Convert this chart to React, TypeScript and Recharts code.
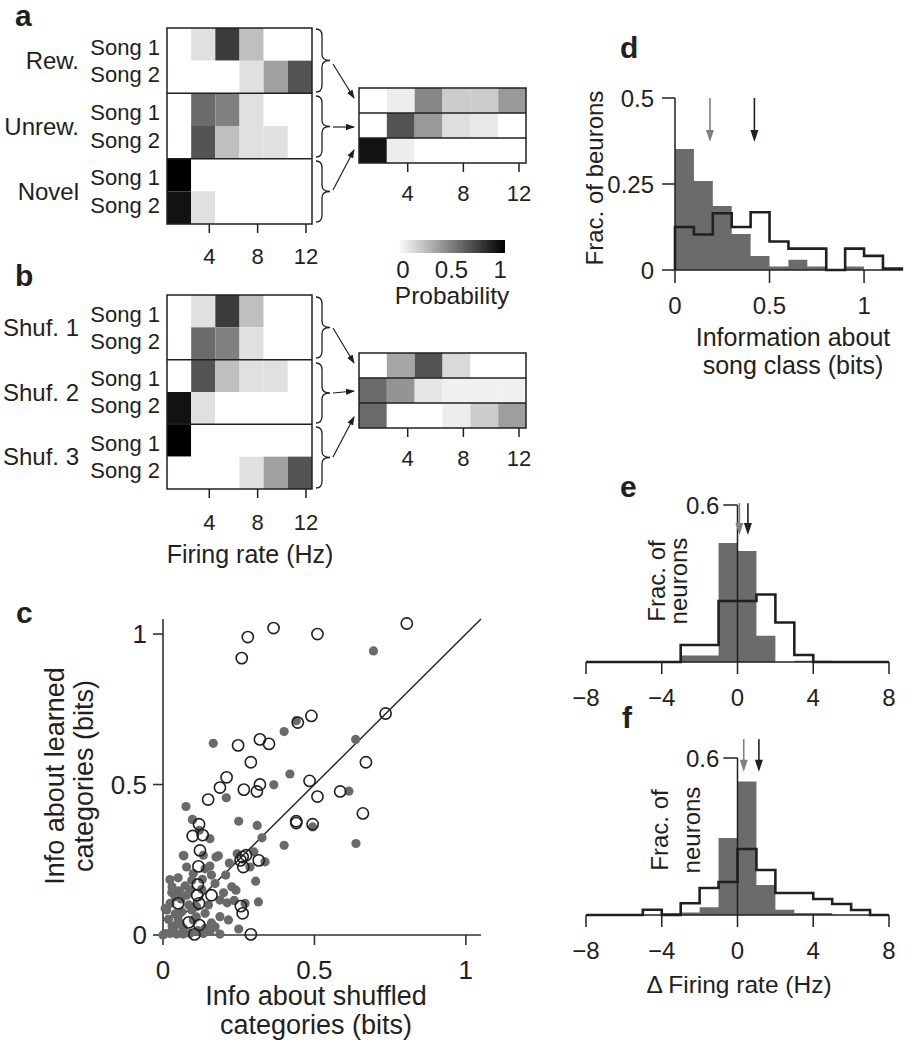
import React from 'react';
import {
  ComposedChart, ScatterChart, Scatter, XAxis, YAxis,
  ReferenceArea, ReferenceLine, Area, Line,
} from 'recharts';

const FONT = '"Liberation Sans", Arial, Helvetica, sans-serif';
const INK = '#231f20';
const FILL = '#6b6b6b';
const MEAN_GRAY = '#808080';

// ---------- a / b : firing-rate probability maps ----------
const RATE_EDGES = [0.5, 2.5, 4.5, 6.5, 8.5, 10.5, 12.5];
const RATE_TICKS = [4, 8, 12];
const SONG_LABELS = ['Song 1', 'Song 2', 'Song 1', 'Song 2', 'Song 1', 'Song 2'];
const SONG_TICKS = [0.58, 1.42, 2.58, 3.42, 4.58, 5.42];
const GROUP_TICKS = [1, 3, 5];
const GROUPS_A = ['Rew.', 'Unrew.', 'Novel'];
const GROUPS_B = ['Shuf. 1', 'Shuf. 2', 'Shuf. 3'];

const PROB_A = [
  [0, 0.12, 0.77, 0.25, 0, 0],
  [0, 0, 0, 0.12, 0.37, 0.67],
  [0, 0.58, 0.5, 0.12, 0, 0],
  [0, 0.67, 0.25, 0.12, 0.12, 0],
  [1, 0, 0, 0, 0, 0],
  [0.93, 0.12, 0, 0, 0, 0],
];
const PROB_A_POOLED = [
  [0, 0.07, 0.47, 0.2, 0.2, 0.4],
  [0, 0.67, 0.4, 0.13, 0.09, 0],
  [0.93, 0.07, 0, 0, 0, 0],
];
const PROB_B = [
  [0, 0.12, 0.77, 0.25, 0, 0],
  [0, 0.58, 0.5, 0.12, 0, 0],
  [0, 0.67, 0.25, 0.12, 0.12, 0],
  [0.93, 0.12, 0, 0, 0, 0],
  [1, 0, 0, 0, 0, 0],
  [0, 0, 0, 0.12, 0.37, 0.67],
];
const PROB_B_POOLED = [
  [0, 0.35, 0.67, 0.15, 0, 0],
  [0.58, 0.42, 0.1, 0.06, 0.06, 0.06],
  [0.58, 0, 0, 0.07, 0.2, 0.38],
];
const PROB_TICKS = [0, 0.5, 1];

// ---------- c : info learned vs shuffled ----------
const FILLED_PTS = [
  [0.695, 0.944], [0.44, 0.712], [0.4, 0.676], [0.636, 0.65], [0.166, 0.637], [0.419, 0.535],
  [0.366, 0.499], [0.209, 0.456], [0.076, 0.427], [0.614, 0.478], [0.097, 0.384], [0.25, 0.378],
  [0.311, 0.364], [0.327, 0.323], [0.494, 0.359], [0.4, 0.298], [0.637, 0.304], [0.155, 0.32],
  [0.069, 0.263], [0.175, 0.259], [0.183, 0.263], [0.133, 0.265], [0.078, 0.226], [0.155, 0.229],
  [0.219, 0.239], [0.245, 0.27], [0.3, 0.276], [0.337, 0.243], [0.287, 0.226], [0.207, 0.199],
  [0.16, 0.199], [0.023, 0.184], [0.306, 0.179], [0.227, 0.16], [0.241, 0.149], [0.095, 0.182],
  [0.073, 0.163], [0.054, 0.147], [0.029, 0.141], [0.04, 0.127], [0.078, 0.132], [0.128, 0.152],
  [0.172, 0.171], [0.188, 0.116], [0.212, 0.107], [0.315, 0.11], [0.271, 0.105], [0.007, 0.088],
  [0.023, 0.105], [0.062, 0.077], [0.095, 0.083], [0.139, 0.072], [0.018, 0.052], [0.05, 0.05],
  [0.188, 0.061], [0.216, 0.05], [0.172, 0.027], [0.139, 0.022], [0.034, 0.022], [0.067, 0.022],
  [0.007, 0.005], [0.023, 0.005], [0.045, 0.003], [0.067, 0.003], [0.089, 0.005], [0.133, 0.005],
  [0.188, 0.003], [0, 0], [0.1, 0.05], [0.111, 0.094], [0.12, 0.348], [0.1, 0.204], [0.139, 0.22],
  [0.098, 0.383], [0.012, 0.083], [0.067, 0.264], [0.03, 0.16], [0.06, 0.12], [0.085, 0.1],
  [0.04, 0.07], [0.11, 0.06], [0.15, 0.1], [0.09, 0.15], [0.13, 0.185], [0.2, 0.14], [0.05, 0.19],
  [0.16, 0.04], [0.03, 0.03], [0.115, 0.015], [0.155, 0.012], [0.058, 0.035], [0.25, 0.02],
  [0.235, 0.115],
];
const OPEN_PTS = [
  [0.26, 0.92], [0.28, 0.99], [0.365, 1.02], [0.51, 1.0], [0.805, 1.035], [0.735, 0.736],
  [0.49, 0.728], [0.445, 0.706], [0.248, 0.63], [0.32, 0.65], [0.35, 0.635], [0.29, 0.574],
  [0.21, 0.524], [0.188, 0.49], [0.267, 0.483], [0.31, 0.477], [0.32, 0.5], [0.149, 0.45],
  [0.484, 0.512], [0.51, 0.46], [0.67, 0.574], [0.585, 0.477], [0.66, 0.404], [0.44, 0.378],
  [0.44, 0.372], [0.494, 0.368], [0.119, 0.368], [0.098, 0.329], [0.131, 0.332], [0.122, 0.281],
  [0.117, 0.228], [0.263, 0.259], [0.274, 0.265], [0.256, 0.248], [0.265, 0.226], [0.316, 0.248],
  [0.115, 0.168], [0.113, 0.132], [0.16, 0.132], [0.119, 0.105], [0.05, 0.105], [0.257, 0.096],
  [0.263, 0.072], [0.085, 0.042], [0.12, 0.033], [0.104, 0.002], [0.29, 0.002],
];
const C_TICKS = [0, 0.5, 1];

// ---------- d : information histograms ----------
const D_EDGES = [0, 0.1, 0.2, 0.3, 0.4, 0.5, 0.6, 0.7, 0.8, 0.9, 1.0, 1.1, 1.2];
const D_SHUFFLED = [0.352, 0.259, 0.186, 0.105, 0.041, 0.01, 0.03, 0.01, 0, 0.01, 0, 0];
const D_LEARNED = [0.125, 0.103, 0.165, 0.125, 0.168, 0.083, 0.062, 0.062, 0, 0.062, 0.041, 0.004];
const D_MEANS = [0.185, 0.42];

// ---------- e / f : delta firing rate ----------
const RATE_DIFF_EDGES = [-8, -7, -6, -5, -4, -3, -2, -1, 0, 1, 2, 3, 4, 5, 6, 7, 8];
const E_FILLED = [0, 0, 0, 0, 0, 0.025, 0.025, 0.455, 0.424, 0.1, 0, 0.005, 0.005, 0, 0, 0];
const E_OUTLINE = [0, 0, 0, 0, 0, 0.065, 0.065, 0.233, 0.233, 0.258, 0.151, 0.027, 0, 0, 0, 0];
const E_MEANS = [0.1, 0.55];
const F_FILLED = [0, 0, 0, 0, 0.008, 0.01, 0.03, 0.294, 0.51, 0.115, 0.02, 0.008, 0.008, 0, 0, 0];
const F_OUTLINE = [0, 0, 0, 0.02, 0, 0.045, 0.103, 0.126, 0.252, 0.172, 0.084, 0.084, 0.061, 0.042, 0.019, 0];
const F_MEANS = [0.33, 1.13];
const DIFF_TICKS = [-8, -4, 0, 4, 8];

const shade = (v: number) => {
  const g = Math.round(255 * (1 - v));
  return `rgb(${g},${g},${g})`;
};

const noDot = () => <g />;
const SONG_AX = 'a_song';
const GROUP_AX = 'b_group';

function HeatMap({ values, groups, width, height, margin, tickMargin, xHeight }: any) {
  const n = values.length;
  const per = n / 3;
  const centers: any[] = [];
  const cells: any[] = [];
  values.forEach((row: number[], r: number) =>
    row.forEach((v, c) => {
      centers.push({ x: (RATE_EDGES[c] + RATE_EDGES[c + 1]) / 2, y: r + 0.5, p: v });
      cells.push(
        <ReferenceArea
          key={`c${r}-${c}`}
          yAxisId={SONG_AX}
          x1={RATE_EDGES[c]}
          x2={RATE_EDGES[c + 1]}
          y1={r}
          y2={r + 1}
          fill={shade(v)}
          fillOpacity={1}
          stroke="none"
          ifOverflow="visible"
        />
      );
    })
  );
  return (
    <ComposedChart width={width} height={height} margin={margin} data={centers}>
      <XAxis
        type="number"
        dataKey="x"
        domain={[RATE_EDGES[0], RATE_EDGES[RATE_EDGES.length - 1]]}
        ticks={RATE_TICKS}
        interval={0}
        height={xHeight}
        axisLine={false}
        tickSize={9}
        tickMargin={tickMargin}
        tickLine={{ stroke: INK, strokeWidth: 1.5 }}
        tick={{ fontSize: 22, fill: INK }}
      />
      {groups && (
        <YAxis
          yAxisId={GROUP_AX}
          type="number"
          dataKey="y"
          domain={[0, n]}
          reversed
          ticks={GROUP_TICKS}
          interval={0}
          tickFormatter={(v: number) => groups[Math.floor(v / 2)]}
          width={80}
          axisLine={false}
          tickLine={false}
          tickSize={0}
          tickMargin={8}
          tick={{ fontSize: 24, fill: INK }}
        />
      )}
      {groups && (
        <YAxis
          yAxisId={SONG_AX}
          type="number"
          dataKey="y"
          domain={[0, n]}
          reversed
          ticks={SONG_TICKS}
          interval={0}
          tickFormatter={(v: number) => SONG_LABELS[Math.floor(v)]}
          width={80}
          axisLine={false}
          tickLine={false}
          tickSize={0}
          tickMargin={7}
          tick={{ fontSize: 22, fill: INK }}
        />
      )}
      {!groups && <YAxis yAxisId={SONG_AX} type="number" dataKey="y" domain={[0, n]} reversed hide />}
      <Scatter yAxisId={SONG_AX} dataKey="y" shape={noDot} isAnimationActive={false} />
      {groups && <Scatter yAxisId={GROUP_AX} dataKey="y" shape={noDot} isAnimationActive={false} />}
      {cells}
      <ReferenceLine yAxisId={SONG_AX} y={per} stroke={INK} strokeWidth={1.5} />
      <ReferenceLine yAxisId={SONG_AX} y={per * 2} stroke={INK} strokeWidth={1.5} />
      <ReferenceArea
        yAxisId={SONG_AX}
        x1={RATE_EDGES[0]}
        x2={RATE_EDGES[RATE_EDGES.length - 1]}
        y1={0}
        y2={n}
        fill="none"
        stroke={INK}
        strokeWidth={1.5}
        ifOverflow="visible"
      />
    </ComposedChart>
  );
}

const meanArrow = (color: string) => (p: any) => {
  const { x1, y1, x2, y2 } = p;
  const top = Math.min(y1, y2);
  const tip = Math.max(y1, y2);
  return (
    <g>
      <line x1={x1} y1={top} x2={x2} y2={tip - 10} stroke={color} strokeWidth={1.6} />
      <path d={`M${x2 - 4},${tip - 12} L${x2 + 4},${tip - 12} L${x2},${tip} Z`} fill={color} />
    </g>
  );
};

function histRows(edges: number[], filled: number[], outline: number[], lead: boolean) {
  const rows = edges.map((x, i) => ({
    x,
    filled: i < filled.length ? filled[i] : 0,
    outline: i < outline.length ? outline[i] : 0,
  }));
  return lead ? [{ x: edges[0], filled: 0, outline: 0 }, ...rows] : rows;
}

const axisStroke = { stroke: INK, strokeWidth: 1.5 };

function PanelD() {
  const data = histRows(D_EDGES, D_SHUFFLED, D_LEARNED, true);
  return (
    <ComposedChart width={318} height={320} margin={{ top: 38, right: 15, left: 0, bottom: 50 }} data={data}>
      <XAxis
        type="number"
        dataKey="x"
        domain={[0, 1.206]}
        ticks={[0, 0.5, 1]}
        interval={0}
        height={60}
        axisLine={axisStroke}
        tickLine={axisStroke}
        tickSize={13}
        tickMargin={14}
        tick={{ fontSize: 24, fill: INK }}
      />
      <YAxis
        type="number"
        domain={[0, 0.5]}
        ticks={[0, 0.25, 0.5]}
        interval={0}
        width={75}
        axisLine={axisStroke}
        tickLine={axisStroke}
        tickSize={13}
        tickMargin={8}
        tick={{ fontSize: 24, fill: INK }}
      />
      <Area type="stepAfter" dataKey="filled" stroke="none" fill={FILL} fillOpacity={1} isAnimationActive={false} />
      <Line type="stepAfter" dataKey="outline" stroke={INK} strokeWidth={2.6} dot={false} isAnimationActive={false} />
      <ReferenceLine
        segment={[{ x: D_MEANS[0], y: 0.5 }, { x: D_MEANS[0], y: 0.372 }]}
        shape={meanArrow(MEAN_GRAY)}
        ifOverflow="visible"
      />
      <ReferenceLine
        segment={[{ x: D_MEANS[1], y: 0.5 }, { x: D_MEANS[1], y: 0.372 }]}
        shape={meanArrow(INK)}
        ifOverflow="visible"
      />
    </ComposedChart>
  );
}

function DiffHist({ filled, outline, means, arrowTop, arrowTip, top, bottom }: any) {
  const data = histRows(RATE_DIFF_EDGES, filled, outline, false);
  return (
    <ComposedChart width={358} height={260} margin={{ top, right: 29, left: 26, bottom }} data={data}>
      <XAxis
        type="number"
        dataKey="x"
        domain={[-8, 8]}
        ticks={DIFF_TICKS}
        interval={0}
        height={50}
        axisLine={axisStroke}
        tickLine={axisStroke}
        tickSize={12}
        tickMargin={15}
        tickFormatter={(v: number) => (v < 0 ? `\u2212${-v}` : `${v}`)}
        tick={{ fontSize: 24, fill: INK }}
      />
      <YAxis type="number" domain={[0, 0.6]} hide />
      <Area type="stepAfter" dataKey="filled" stroke="none" fill={FILL} fillOpacity={1} isAnimationActive={false} />
      <Line type="stepAfter" dataKey="outline" stroke={INK} strokeWidth={2.6} dot={false} isAnimationActive={false} />
      <ReferenceLine segment={[{ x: 0, y: 0 }, { x: 0, y: 0.6 }]} stroke={INK} strokeWidth={1.5} />
      <ReferenceLine
        segment={[{ x: -0.75, y: 0.6 }, { x: 0, y: 0.6 }]}
        stroke={INK}
        strokeWidth={1.5}
        label={{ value: '0.6', position: 'left', offset: 4, fontSize: 24, fill: INK }}
      />
      <ReferenceLine
        segment={[{ x: means[0], y: arrowTop }, { x: means[0], y: arrowTip }]}
        shape={meanArrow(MEAN_GRAY)}
        ifOverflow="visible"
      />
      <ReferenceLine
        segment={[{ x: means[1], y: arrowTop }, { x: means[1], y: arrowTip }]}
        shape={meanArrow(INK)}
        ifOverflow="visible"
      />
    </ComposedChart>
  );
}

function PanelC() {
  const filled = FILLED_PTS.map(([x, y]) => ({ x, y }));
  const open = OPEN_PTS.map(([x, y]) => ({ x, y }));
  const ax = { stroke: '#333', strokeWidth: 1.6 };
  return (
    <ScatterChart width={500} height={460} margin={{ top: 29, right: 19, left: 0, bottom: 65 }}>
      <XAxis
        type="number"
        dataKey="x"
        domain={[0, 1.05]}
        ticks={C_TICKS}
        interval={0}
        height={50}
        axisLine={ax}
        tickLine={ax}
        tickSize={10}
        tickMargin={16}
        tick={{ fontSize: 26, fill: INK }}
      />
      <YAxis
        type="number"
        dataKey="y"
        domain={[0, 1.05]}
        ticks={C_TICKS}
        interval={0}
        width={163}
        axisLine={ax}
        tickLine={ax}
        tickSize={10}
        tickMargin={6}
        tick={{ fontSize: 26, fill: INK }}
      />
      <Scatter
        data={filled}
        isAnimationActive={false}
        shape={(p: any) => <circle cx={p.cx} cy={p.cy} r={4.6} fill="#6a6a6a" />}
      />
      <ReferenceLine segment={[{ x: 0, y: 0 }, { x: 1.05, y: 1.05 }]} stroke={INK} strokeWidth={1.4} />
      <Scatter
        data={open}
        isAnimationActive={false}
        shape={(p: any) => <circle cx={p.cx} cy={p.cy} r={5.6} fill="none" stroke={INK} strokeWidth={1.6} />}
      />
    </ScatterChart>
  );
}

function ColorBar() {
  const stops = PROB_TICKS.map((x) => ({ x, y: 0.5 }));
  return (
    <ComposedChart width={145} height={70} margin={{ top: 15, right: 20, left: 18, bottom: 5 }} data={stops}>
      <defs>
        <linearGradient id="probGrad" x1="0" x2="1" y1="0" y2="0">
          <stop offset="0" stopColor="#ffffff" />
          <stop offset="1" stopColor="#000000" />
        </linearGradient>
      </defs>
      <XAxis
        type="number"
        dataKey="x"
        domain={[-0.05, 1.05]}
        ticks={PROB_TICKS}
        interval={0}
        height={37}
        axisLine={false}
        tickLine={false}
        tickSize={0}
        tickMargin={8}
        tick={{ fontSize: 24, fill: INK }}
      />
      <YAxis type="number" dataKey="y" domain={[0, 1]} hide />
      <Scatter dataKey="y" shape={noDot} isAnimationActive={false} />
      <ReferenceArea x1={-0.05} x2={1.05} y1={0} y2={1} fill="url(#probGrad)" fillOpacity={1} stroke="none" ifOverflow="visible" />
    </ComposedChart>
  );
}

const Tx = ({ x, y, size = 24, anchor = 'middle', bold = false, rot = false, children }: any) => (
  <text
    x={x}
    y={y}
    fontSize={size}
    fontWeight={bold ? 700 : 400}
    textAnchor={anchor}
    fill={INK}
    transform={rot ? `rotate(-90 ${x} ${y})` : undefined}
  >
    {children}
  </text>
);

const brace = (y0: number, y1: number) => {
  const x0 = 316;
  const xm = 322;
  const tip = 330;
  const ym = (y0 + y1) / 2;
  return `M${x0},${y0} Q${xm},${y0} ${xm},${y0 + 7} L${xm},${ym - 6} Q${xm},${ym} ${tip},${ym} Q${xm},${ym} ${xm},${ym + 6} L${xm},${y1 - 7} Q${xm},${y1} ${x0},${y1}`;
};

const BRACES = [[29, 92], [96, 157], [161, 222], [297, 358], [363, 423], [427, 488]];
const LINK_ARROWS = [
  [333, 64, 354, 98], [333, 127, 354, 127], [333, 190, 354, 150],
  [333, 328, 354, 363], [333, 393, 354, 391], [333, 457, 354, 417],
];

function Overlay() {
  return (
    <svg width={918} height={1050} style={{ position: 'absolute', left: 0, top: 0, pointerEvents: 'none' }}>
      <defs>
        <marker id="ah" markerWidth="9" markerHeight="8" refX="8" refY="4" orient="auto" markerUnits="userSpaceOnUse">
          <path d="M0,0.8 L9,4 L0,7.2 z" fill={INK} />
        </marker>
      </defs>
      {BRACES.map(([a, b], i) => (
        <path key={`b${i}`} d={brace(a, b)} fill="none" stroke={INK} strokeWidth={1.3} />
      ))}
      {LINK_ARROWS.map(([x1, y1, x2, y2], i) => (
        <line key={`l${i}`} x1={x1} y1={y1} x2={x2} y2={y2} stroke={INK} strokeWidth={1.2} markerEnd="url(#ah)" />
      ))}
      <Tx x={15} y={26} size={30} anchor="start" bold>a</Tx>
      <Tx x={15} y={286} size={30} anchor="start" bold>b</Tx>
      <Tx x={16} y={623} size={30} anchor="start" bold>c</Tx>
      <Tx x={620} y={58} size={30} anchor="start" bold>d</Tx>
      <Tx x={620} y={497} size={30} anchor="start" bold>e</Tx>
      <Tx x={622} y={728} size={30} anchor="start" bold>f</Tx>

      <Tx x={250} y={563} size={25}>Firing rate (Hz)</Tx>
      <Tx x={452} y={304} size={24.5}>Probability</Tx>

      <Tx x={793} y={346} size={25}>Information about</Tx>
      <Tx x={793} y={374} size={25}>song class (bits)</Tx>
      <Tx x={603} y={178} size={24} rot>Frac. of beurons</Tx>

      <Tx x={665} y={581} size={24} rot>Frac. of</Tx>
      <Tx x={687} y={581} size={24} rot>neurons</Tx>
      <Tx x={668} y={830} size={24} rot>Frac. of</Tx>
      <Tx x={700} y={830} size={24} rot>neurons</Tx>
      <Tx x={739} y={993} size={24.5}>{'\u0394 Firing rate (Hz)'}</Tx>

      <Tx x={64} y={776} size={27} rot>Info about learned</Tx>
      <Tx x={93} y={776} size={27} rot>categories (bits)</Tx>
      <Tx x={316} y={1005} size={27}>Info about shuffled</Tx>
      <Tx x={316} y={1034} size={27}>categories (bits)</Tx>
    </svg>
  );
}

const at = (left: number, top: number) => ({ position: 'absolute' as const, left, top });

export default function App() {
  return (
    <div style={{ position: 'absolute', left: 0, top: 0, width: 918, height: 1050, background: '#fff', fontFamily: FONT, overflow: 'hidden' }}>
      <div style={at(0, 0)}>
        <HeatMap values={PROB_A} groups={GROUPS_A} width={330} height={280} xHeight={50} tickMargin={15}
          margin={{ top: 28, right: 18, bottom: 6, left: 7 }} />
      </div>
      <div style={at(340, 60)}>
        <HeatMap values={PROB_A_POOLED} width={200} height={160} xHeight={40} tickMargin={13}
          margin={{ top: 28, right: 14, bottom: 17, left: 19 }} />
      </div>
      <div style={at(380, 225)}>
        <ColorBar />
      </div>
      <div style={at(0, 270)}>
        <HeatMap values={PROB_B} groups={GROUPS_B} width={330} height={280} xHeight={50} tickMargin={16}
          margin={{ top: 25, right: 18, bottom: 11, left: 7 }} />
      </div>
      <div style={at(340, 325)}>
        <HeatMap values={PROB_B_POOLED} width={200} height={160} xHeight={40} tickMargin={13}
          margin={{ top: 28, right: 14, bottom: 17, left: 19 }} />
      </div>
      <div style={at(0, 590)}>
        <PanelC />
      </div>
      <div style={at(600, 60)}>
        <PanelD />
      </div>
      <div style={at(560, 470)}>
        <DiffHist filled={E_FILLED} outline={E_OUTLINE} means={E_MEANS} arrowTop={0.607} arrowTip={0.485} top={35} bottom={18} />
      </div>
      <div style={at(560, 725)}>
        <DiffHist filled={F_FILLED} outline={F_OUTLINE} means={F_MEANS} arrowTop={0.672} arrowTip={0.547} top={33} bottom={20} />
      </div>
      <Overlay />
    </div>
  );
}
